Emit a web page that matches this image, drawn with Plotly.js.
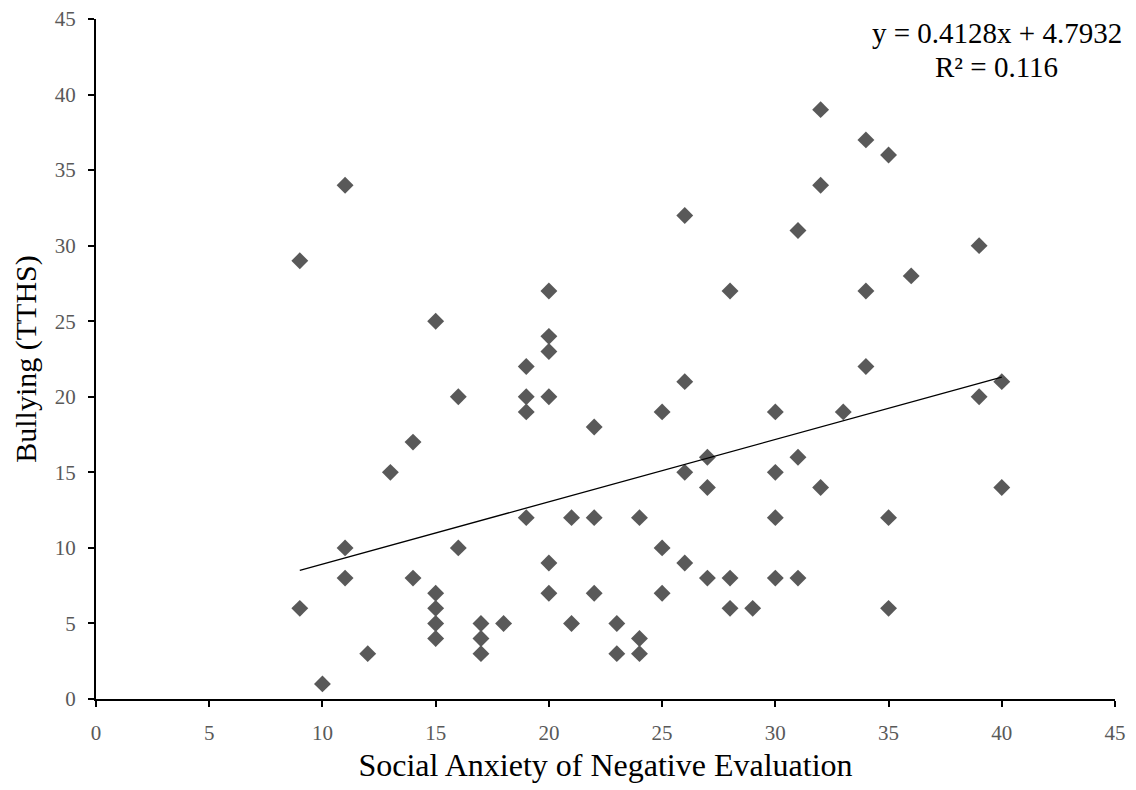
<!DOCTYPE html>
<html>
<head>
<meta charset="utf-8">
<script src="https://cdn.plot.ly/plotly-3.0.1.min.js"></script>
<style>html,body{margin:0;padding:0;background:#fff;}#chart{width:1136px;height:790px;}</style>
</head>
<body>
<div id="chart"></div>
<script>
const anxiety = [9,9,10,11,11,11,12,13,14,14,15,15,15,15,15,16,16,17,17,17,18,19,19,19,19,20,20,20,20,20,20,21,21,22,22,22,23,23,24,24,24,25,25,25,26,26,26,26,27,27,27,28,28,28,29,30,30,30,30,31,31,31,32,32,32,33,34,34,34,35,35,35,36,39,39,40,40];
const bullying = [29,6,1,34,10,8,3,15,17,8,25,7,6,5,4,20,10,5,4,3,5,22,20,19,12,27,24,23,20,9,7,12,5,18,12,7,5,3,12,4,3,19,10,7,32,21,15,9,16,14,8,27,8,6,6,19,15,12,8,31,16,8,39,34,14,19,37,27,22,36,12,6,28,30,20,21,14];
const trendX = [9, 40];
const trendY = [8.508, 21.305];
const equationLines = ["y = 0.4128x + 4.7932", "R² = 0.116"];
const xTicks = [0,5,10,15,20,25,30,35,40,45];
const yTicks = [0,5,10,15,20,25,30,35,40,45];

const font = "Liberation Serif, Times New Roman, serif";
const data = [
  {x: anxiety, y: bullying, type: 'scatter', mode: 'markers',
   marker: {symbol: 'diamond', size: 13, color: '#595959'}, showlegend: false, hoverinfo: 'x+y'},
  {x: trendX, y: trendY, type: 'scatter', mode: 'lines',
   line: {color: '#000000', width: 1.3}, showlegend: false, hoverinfo: 'skip'}
];
const axisCommon = {
  showgrid: false, zeroline: false, showline: true, linecolor: '#000', linewidth: 2,
  ticks: 'outside', ticklen: 6, tickwidth: 2, tickcolor: '#000',
  ticklabelstandoff: 8,
  tickfont: {family: font, size: 21, color: '#595959'}
};
const layout = {
  width: 1136, height: 790,
  margin: {l: 96, r: 21, t: 19, b: 91},
  paper_bgcolor: '#fff', plot_bgcolor: '#fff',
  font: {family: font},
  xaxis: Object.assign({}, axisCommon, {
    range: [0, 45], tickvals: xTicks, ticktext: xTicks.map(String),
    title: {text: 'Social Anxiety of Negative Evaluation', font: {family: font, size: 32, color: '#000'}, standoff: 9}
  }),
  yaxis: Object.assign({}, axisCommon, {
    range: [0, 45], tickvals: yTicks, ticktext: yTicks.map(String),
    title: {text: 'Bullying (TTHS)', font: {family: font, size: 30, color: '#000'}, standoff: 9}
  }),
  annotations: [
    {text: equationLines[0], xref: 'paper', yref: 'paper', x: 0.884, y: 0.979,
     xanchor: 'center', yanchor: 'middle', showarrow: false,
     font: {family: font, size: 29, color: '#000'}},
    {text: equationLines[1], xref: 'paper', yref: 'paper', x: 0.884, y: 0.929,
     xanchor: 'center', yanchor: 'middle', showarrow: false,
     font: {family: font, size: 29, color: '#000'}}
  ]
};
Plotly.newPlot('chart', data, layout, {displayModeBar: false, staticPlot: true});
</script>
</body>
</html>
